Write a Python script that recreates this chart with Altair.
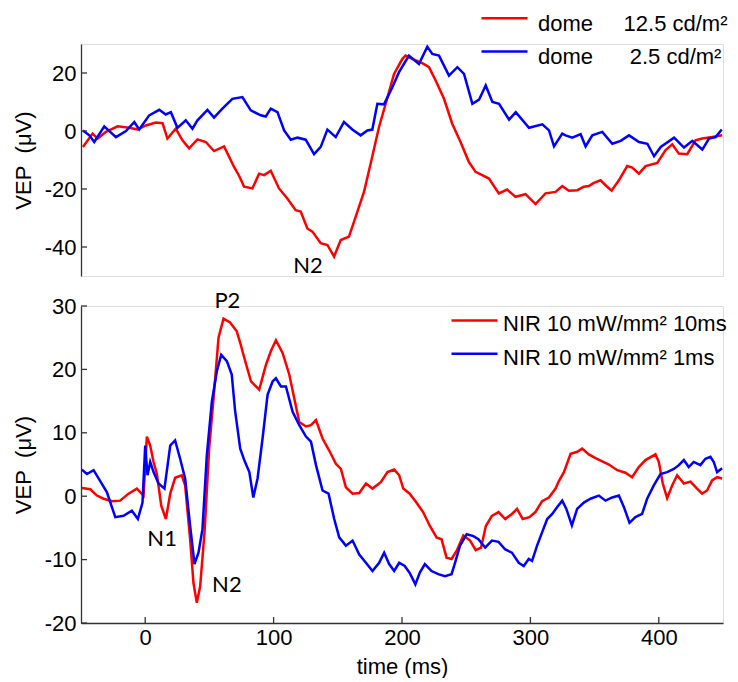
import altair as alt
import pandas as pd

# ---------------- data (time ms, VEP µV) ----------------
top_red = [(-48.5, -5.5), (-41, -0.9), (-37, -2.6), (-30.6, -0.3), (-21.5, 1.6), (-12.5, 1.1),
           (-6, 0.5), (0.5, 1.9), (8.3, 2.9), (13.5, 2.7), (17.3, -2.6), (23.8, 0.8), (29, -3.2),
           (34.2, -6), (40.7, -2.9), (47.2, -3.8), (53.6, -6.9), (61.4, -5.3), (69.2, -12.4),
           (73.2, -15.5), (77, -19.2), (83.5, -19.8), (88.7, -14.7), (92.6, -15.2), (97.8, -13.7),
           (104.2, -19.8), (110.7, -23.3), (117.2, -27.3), (121.1, -27.8), (126.3, -33.6),
           (130.2, -34.7), (136.7, -38.7), (141.9, -39.3), (147.1, -43.3), (152.3, -37.6),
           (158.7, -36.4), (163.9, -29.6), (170.4, -21), (175.6, -11.2), (182.1, 1.4), (187.3, 9.4),
           (193.8, 19.7), (200.3, 24.9), (202.8, 26), (208, 24.9), (215.8, 23.4), (221, 22),
           (226.2, 17.4), (232.7, 11.1), (239.1, 2.5), (245.6, -3.8), (252.1, -10.7), (257.3, -14.1),
           (267.7, -16.4), (275.4, -21.5), (281.9, -20.2), (288.4, -22.7), (296.2, -21.8),
           (304, -25.2), (311.8, -21.5), (319.6, -21), (324.8, -19), (330, -20.6), (336.5, -20.4),
           (341.6, -19.2), (345.5, -19), (349.4, -17.9), (354.6, -17), (358.5, -18.7), (363.2, -20.6),
           (368.9, -17), (375.4, -12.1), (379.3, -12.6), (384.5, -14.7), (389.7, -12.1), (398.8, -11),
           (405.3, -6.6), (410.5, -4.6), (415.6, -7.8), (422.1, -8), (428.6, -3.2), (433.8, -2.6),
           (441.6, -2.1), (449.4, -1.5)]

top_blue = [(-48.5, 0.2), (-43.5, -1.5), (-39.7, -3.8), (-31.9, 1.6), (-22.8, -2.1), (-15, 0),
            (-8.5, 3.1), (-4.7, 0.5), (3.1, 5.4), (10.9, 7.3), (16, 5.7), (20, 6.5), (25.1, 1.1),
            (31.6, 3.7), (36.8, 0.8), (40.7, 3.7), (48.5, 7.3), (53.6, 4.6), (60.1, 7.7), (67.9, 11.1),
            (75.7, 11.7), (82.2, 7.1), (90, 5.4), (93.9, 5), (97.8, 7.7), (103, 6.5), (108.2, 0.2),
            (113.4, -3), (118.6, -2.3), (125, -3), (131.5, -8), (136.7, -5.5), (141.9, 0.5),
            (148.4, -2.1), (154.8, 3.1), (161.3, 0.5), (167.8, -1.5), (173, 0.2), (176.9, 0.5),
            (180.8, 9.4), (186, 9.2), (192.5, 15.1), (197.7, 20.3), (205.4, 26), (213.2, 23.1),
            (219.7, 29.1), (223.6, 26.6), (228.8, 26), (236.6, 19.1), (243.1, 22), (248.3, 19.7),
            (254.8, 9.4), (260, 10.8), (265.2, 15.7), (270.4, 10), (275.6, 9.4), (283.4, 3.9),
            (288.6, 6.5), (298.9, 1.1), (309.3, 2.3), (314.5, 0.2), (318.4, -5.3), (324.8, -0.9),
            (327.4, -1.5), (332.6, -2.3), (339.1, -1.1), (343, -5.3), (348.2, -1.5), (356, -0.3),
            (363.8, -4.4), (370.3, -3.4), (376.8, -1.5), (384.6, -3.8), (391.1, -4.4), (396.3, -8.7),
            (401.5, -5.5), (411.9, -2.3), (419.6, -5.7), (426.1, -3.4), (433.9, -6.4), (439.1, -2.6),
            (444.3, -2.1), (449, 0.5)]

bot_red = [(-49.3, 1.3), (-42.8, 1.1), (-37.6, 0.1), (-32.4, -0.4), (-25.9, -0.8), (-19.5, -0.7),
           (-13, 0.4), (-6.5, 1.2), (-1.3, 0.1), (1.3, 9.4), (3.9, 8), (6.5, 5.4), (9.1, 3.5),
           (12.5, -1.5), (16.1, -3.6), (19.5, 0.4), (23.3, 2.9), (28.5, 3.3), (31.1, 1.7), (35, -6.8),
           (37.6, -13.7), (40.2, -16.8), (42.8, -14.2), (46.2, -5.7), (49.8, 7.5), (53.2, 15.4),
           (57.1, 25), (61, 28), (66.1, 27.4), (71.3, 26), (74, 24.2), (77.2, 21.8), (82.4, 18.1),
           (88.8, 16.8), (94, 20.7), (97.9, 22.9), (101.8, 24.6), (107, 22.6), (112.2, 19.2),
           (116.1, 15.4), (120, 11.7), (125.2, 11), (129.1, 11.2), (133, 12), (138.1, 9.1),
           (143.3, 7.2), (148.5, 5.1), (152.4, 4.3), (156.3, 1.4), (161.5, 0.4), (166.7, 0.5),
           (171.9, 2), (177, 1.2), (183.5, 2.2), (188.7, 3.8), (193.9, 4.2), (197.8, 3.3), (201, 1.2),
           (206, 0.4), (211.2, -1), (216.4, -2.5), (221.7, -4.7), (226.9, -6.5), (230.8, -6.8),
           (234.7, -9.7), (238.6, -9.9), (242.6, -8.6), (247.8, -6.2), (253, -7), (257.4, -8.5),
           (261.6, -8.1), (265.3, -4.7), (270, -3.1), (275.2, -2.5), (280.4, -3.6), (285.6, -2.8),
           (289.6, -2), (294, -3.6), (299.2, -3.3), (303.9, -2.5), (309.1, -0.8), (314.4, -0.2),
           (319.6, 1.2), (322, 2.3), (326.1, 3.8), (331.3, 6.7), (336.5, 7), (340.3, 7.5),
           (345.5, 6.6), (350.7, 6), (355.9, 5.5), (361.1, 5), (367.6, 4.1), (374, 3.7), (379.2, 3),
           (384.4, 4.6), (389.6, 5.7), (397.4, 6.6), (400, 5.4), (403.1, 2), (406.5, -0.3),
           (410.4, 1.7), (414.3, 3.3), (419.5, 2), (424.6, 2.3), (429.8, 1.2), (433.7, 0.4),
           (437.6, 0.9), (441.5, 2.5), (445.4, 3), (449.3, 2.8)]

bot_blue = [(-49.3, 4.2), (-45.4, 3.5), (-40.2, 4.1), (-36.3, 2.8), (-29.8, 0.6), (-23.3, -3.3),
            (-16.9, -3.1), (-10.4, -2.3), (-5.7, -3.6), (-2.1, -1), (0, 8), (1.8, 3.3), (3.9, 5.4),
            (6.5, 3.8), (10.4, 2), (15, 1.2), (19.5, 8), (23.3, 8.8), (27.2, 5.9), (31.1, 2.8),
            (35, -4.7), (38.4, -10.7), (41.5, -8.9), (44.6, -5.2), (48, 6.5), (51.9, 14.9),
            (55.8, 19.7), (59.2, 22.3), (63.6, 21.3), (67.4, 19.2), (70, 13.5), (74, 7.5),
            (77.5, 5.5), (81.1, 3.8), (84.2, -0.2), (87.5, 2.8), (91.4, 9.1), (95.3, 16), (99.2, 18.1),
            (101.8, 18.6), (105.7, 17.3), (109.6, 17.3), (114.8, 13.3), (120, 11.2), (125.2, 9.4),
            (129.1, 8.6), (133, 4.9), (138.1, 0.9), (142.8, 0.4), (147.2, -3.6), (151.1, -6.5),
            (156.3, -7.8), (161.5, -7), (166.7, -9.2), (171.9, -10.5), (177, -11.8), (182.2, -10.5),
            (186.1, -8.9), (190, -10.7), (193.9, -11.8), (197.8, -10.5), (202.1, -11), (206, -12.1),
            (210.4, -13.9), (213.8, -12.1), (217.8, -10.7), (223, -11.8), (228.2, -12.3),
            (233.4, -12.6), (238.6, -12.3), (241.3, -10.5), (245.2, -7.8), (250.4, -6), (255.6, -6.3),
            (259.5, -6.8), (264.8, -8.1), (270, -7), (275.2, -7.2), (280.4, -8.4), (285.6, -8.9),
            (290.9, -10.5), (294.8, -11), (298.7, -9.9), (301.3, -10.2), (305.2, -7.8), (309.1, -5.7),
            (313.1, -3.6), (317, -2.8), (320.9, -1.7), (324.8, -0.7), (328, -2), (332.3, -4.6),
            (336.4, -2), (341.6, -1), (346.8, -0.4), (353.3, 0.1), (358.5, -0.7), (363.7, -0.2),
            (368.9, 0.1), (372.8, -1.7), (377.2, -4.2), (381.8, -3.3), (387, -2.8), (390.9, -0.4),
            (396.1, 1.7), (401.3, 3.5), (406.5, 3.8), (411.7, 4.3), (415.6, 4.9), (419.5, 5.7),
            (423.3, 4.6), (427.2, 5.4), (432.4, 4.9), (436.3, 5.9), (440.2, 6.2), (442.8, 5.4),
            (445.4, 3.8), (449.3, 4.4)]

NB = "\u00a0"
top_labels = ["dome" + NB * 5 + "12.5 cd/m²", "dome" + NB * 6 + "2.5 cd/m²"]
bot_labels = ["NIR 10 mW/mm² 10ms", "NIR 10 mW/mm² 1ms"]
line_colors = ["#ff0000", "#0000ff"]

x_domain = [-50, 450]
top_y_domain = [-50, 30]
bot_y_domain = [-20, 30]
top_y_ticks = [-40, -20, 0, 20]
bot_y_ticks = [-20, -10, 0, 10, 20, 30]
x_ticks = [0, 100, 200, 300, 400]

top_notes = [("N2", 126.8, -45.9)]
bot_notes = [("N1", 13.2, -6.2), ("N2", 63.6, -13.6), ("P2", 64.0, 31.2)]

# ---------------- frames ----------------
def series_frame(points, name):
    return pd.DataFrame({"t": [p[0] for p in points], "v": [p[1] for p in points], "series": name})

top_df = pd.concat([series_frame(top_red, top_labels[0]), series_frame(top_blue, top_labels[1])])
bot_df = pd.concat([series_frame(bot_red, bot_labels[0]), series_frame(bot_blue, bot_labels[1])])
top_note_df = pd.DataFrame(top_notes, columns=["label", "t", "v"])
bot_note_df = pd.DataFrame(bot_notes, columns=["label", "t", "v"])

# ---------------- style ----------------
W, H_TOP, H_BOT = 642, 232, 317
AX = "#333333"
FONT = "Liberation Sans"
NOTE_FONT = "Lato"
FS = 22
HYPHEN_LABEL = "datum.value < 0 ? '-' + format(-datum.value, 'd') : format(datum.value, 'd')"


def y_axis(values):
    return alt.Axis(values=values, title="VEP\u00a0 (μV)", ticks=False, tickSize=0, labelPadding=5,
                    labelExpr=HYPHEN_LABEL,
                    domainColor=AX, domainWidth=1.3, grid=False, labelFontSize=FS, titleFontSize=FS,
                    labelColor="#000", titleColor="#000", titleFontWeight="normal", titlePadding=9,
                    labelFont=FONT, titleFont=FONT)


def legend(x, y, row_pad, label_off, symbol_path):
    return alt.Legend(title=None, orient="none", legendX=x, legendY=y, clipHeight=22,
                      rowPadding=row_pad, symbolType=symbol_path, symbolSize=2116,
                      symbolStrokeWidth=2.5, symbolFillColor="transparent",
                      labelFontSize=FS, labelFont=FONT, labelColor="#000",
                      labelOffset=label_off, padding=0, labelLimit=400)


xs = alt.Scale(domain=x_domain, nice=False, zero=False)

# ---------------- top panel ----------------
yt = alt.Y("v:Q", scale=alt.Scale(domain=top_y_domain, nice=False, zero=False), axis=y_axis(top_y_ticks))
xt = alt.X("t:Q", scale=xs, axis=None)

top_lines = alt.Chart(top_df).mark_line(strokeWidth=2.5).encode(
    x=xt, y=yt,
    color=alt.Color("series:N", scale=alt.Scale(domain=top_labels, range=line_colors),
                    legend=legend(399, -31, 11.3, 9, "M-1,-0.25H1")),
)
top_tick_marks = alt.Chart(pd.DataFrame({"v": top_y_ticks})).mark_rule(color=AX, strokeWidth=1.3).encode(
    y=yt, x=alt.value(0), x2=alt.value(6))
top_text = alt.Chart(top_note_df).mark_text(font=NOTE_FONT, fontSize=FS, color="#000", dy=2).encode(
    x=xt, y=yt, text="label:N")
top = alt.layer(top_lines, top_tick_marks, top_text).properties(width=W, height=H_TOP)

# ---------------- bottom panel ----------------
yb = alt.Y("v:Q", scale=alt.Scale(domain=bot_y_domain, nice=False, zero=False), axis=y_axis(bot_y_ticks))
xb = alt.X("t:Q", scale=xs,
           axis=alt.Axis(values=x_ticks, title="time (ms)", ticks=False, tickSize=0, labelPadding=4,
                         domainColor=AX, domainWidth=1.3, grid=False, labelFontSize=FS,
                         titleFontSize=FS, labelColor="#000", titleColor="#000",
                         titleFontWeight="normal", titlePadding=8, labelFont=FONT, titleFont=FONT))

bot_lines = alt.Chart(bot_df).mark_line(strokeWidth=2.5).encode(
    x=xb, y=yb,
    color=alt.Color("series:N", scale=alt.Scale(domain=bot_labels, range=line_colors),
                    legend=legend(369, 7.3, 11.3, 4, "M-1,-0.17H1")),
)
bot_ytick_marks = alt.Chart(pd.DataFrame({"v": bot_y_ticks})).mark_rule(color=AX, strokeWidth=1.3).encode(
    y=yb, x=alt.value(0), x2=alt.value(6))
bot_xtick_marks = alt.Chart(pd.DataFrame({"t": x_ticks})).mark_rule(color=AX, strokeWidth=1.3).encode(
    x=xb, y=alt.value(H_BOT), y2=alt.value(H_BOT - 6))
bot_text = alt.Chart(bot_note_df).mark_text(font=NOTE_FONT, fontSize=FS, color="#000", dy=3).encode(
    x=xb, y=yb, text="label:N")
bottom = alt.layer(bot_lines, bot_ytick_marks, bot_xtick_marks, bot_text).properties(width=W, height=H_BOT)

chart = (
    alt.vconcat(top, bottom, spacing=30, bounds="flush")
    .resolve_scale(color="independent", x="independent", y="independent")
    .properties(padding={"left": 3, "top": 4, "right": 0, "bottom": 0})
    .configure_view(stroke=None)
    .configure(background="white")
)

chart.save("out.html", embed_options={"renderer": "svg", "actions": False})
